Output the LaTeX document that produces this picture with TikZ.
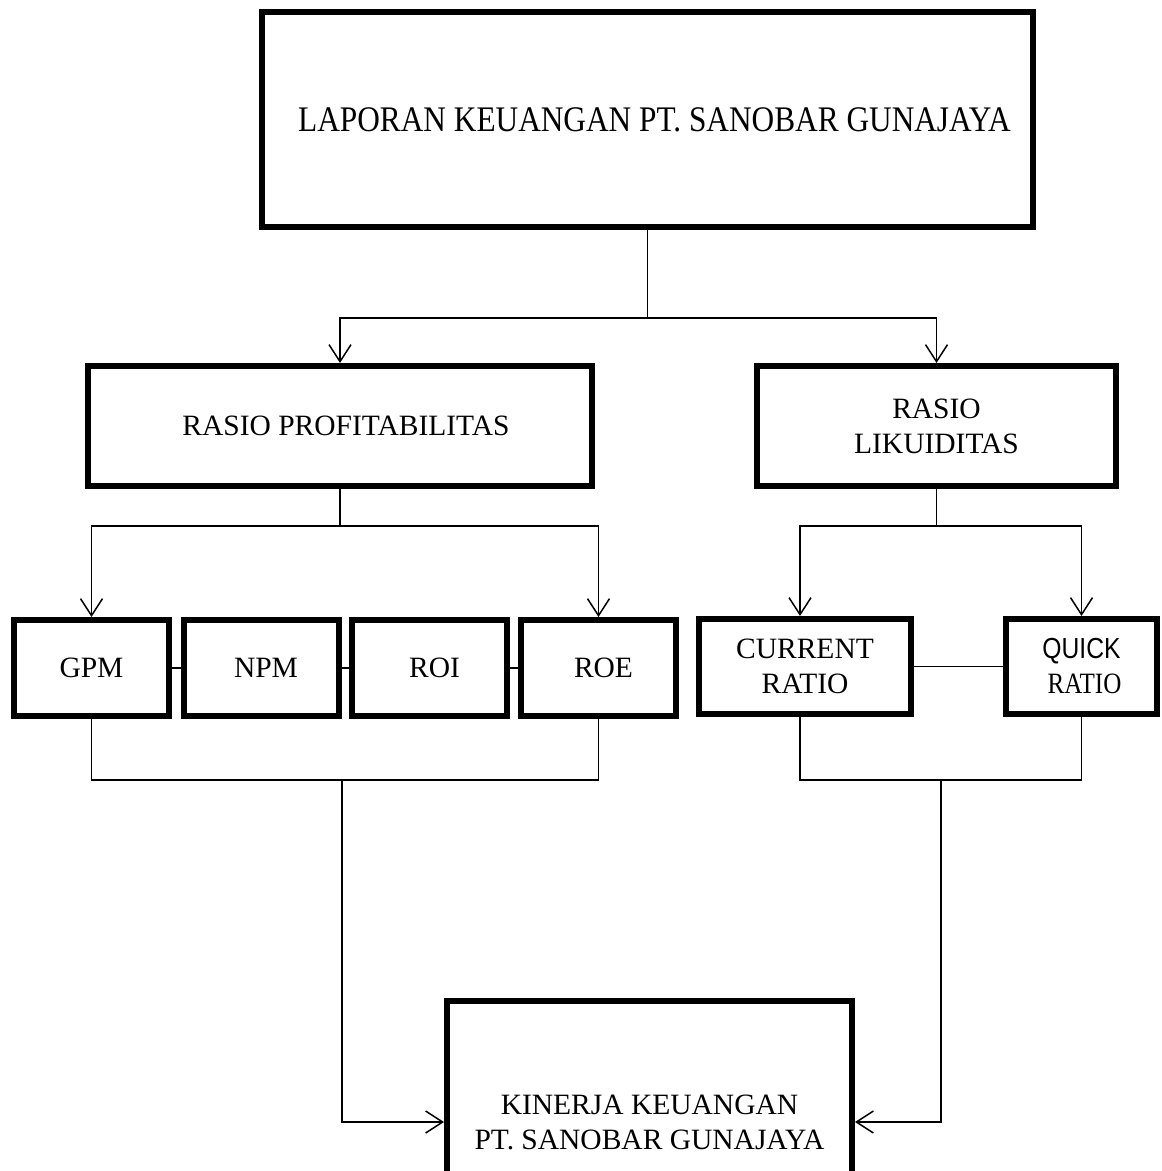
\documentclass[tikz,border=0pt]{standalone}
\usepackage{fontspec}
\setmainfont{Liberation Serif}
\newfontfamily\quickfont{Liberation Sans}
\usetikzlibrary{arrows.meta,positioning}
\tikzset{
    basic/.style  = {draw, rectangle, line width=6pt, inner sep=0pt, align=center,
                     font=\fontsize{29.5}{35}\selectfont},
    head box/.style = {basic, minimum width=771pt, minimum height=215pt},
    rasio box/.style = {basic, minimum height=120pt},
    item box/.style = {basic, minimum width=155pt, minimum height=96pt},
    ratio box/.style = {basic, minimum height=95pt},
    conn/.style = {line width=1.5pt}
}
\begin{document}
\begin{tikzpicture}[x=1pt, y=-1pt,
	>={Straight Barb[length=17pt, width=22pt]}]
		\useasboundingbox (0,0) rectangle (1162,1171);
		% kotak utama
		\node[head box] (lap) at (647.5,119.5)
			{\fontsize{36}{40}\selectfont\hspace*{14pt}\raisebox{-5pt}{\scalebox{0.87}[1]{LAPORAN KEUANGAN PT. SANOBAR GUNAJAYA}}};
		\node[rasio box, minimum width=504pt] (prof) at (340,426) {\hspace*{12pt}RASIO PROFITABILITAS};
		\node[rasio box, minimum width=359pt] (lik) at (936.5,426) {RASIO\\LIKUIDITAS};
		% rasio profitabilitas
		\node[item box] (gpm) at (91.5,668) {GPM};
		\node[item box] (npm) at (261,668) {\hspace*{10pt}NPM};
		\node[item box] (roi) at (429.5,668) {\hspace*{10pt}ROI};
		\node[item box] (roe) at (598.5,668) {\hspace*{10pt}ROE};
		% rasio likuiditas
		\node[ratio box, minimum width=212pt] (cur) at (805,666.5) {CURRENT\\RATIO};
		\node[ratio box, minimum width=151pt] (qr) at (1081.5,666.5)
			{\quickfont\fontsize{29}{36}\selectfont\scalebox{0.85}[1]{QUICK}\\\hspace*{6pt}\scalebox{0.85}[1]{RATIO}};
		% kinerja
		\node[basic, minimum width=405pt, minimum height=242pt] (kin) at (649.5,1122)
			{KINERJA KEUANGAN\\PT. SANOBAR GUNAJAYA};
		\coordinate (j1) at (647.5,318);
		\coordinate (j2) at (340,526);
		\coordinate (j3) at (936.5,526);
		\coordinate (j4) at (342,780);
		\coordinate (j5) at (941,780);
		\begin{scope}[every path/.style={conn}]
			\draw (lap.south) -- (j1);
			\draw[->] (j1) -| (prof.north);
			\draw[->] (j1) -| (lik.north);
			\draw (prof.south) -- (j2);
			\draw[->] (j2) -| (gpm.north);
			\draw[->] (j2) -| (roe.north);
			\draw (lik.south) -- (j3);
			\draw[->] (j3) -| ([xshift=-5pt]cur.north);
			\draw[->] (j3) -| (qr.north);
			\draw (gpm.east) -- (npm.west);
			\draw (npm.east) -- (roi.west);
			\draw (roi.east) -- (roe.west);
			\draw (cur.east) -- (qr.west);
			\draw (gpm.south) |- (j4) -| (roe.south);
			\draw ([xshift=-5pt]cur.south) |- (j5) -| (qr.south);
			\draw[->] (j4) |- (kin.west);
			\draw[->] (j5) |- (kin.east);
		\end{scope}
\end{tikzpicture}
\end{document}
